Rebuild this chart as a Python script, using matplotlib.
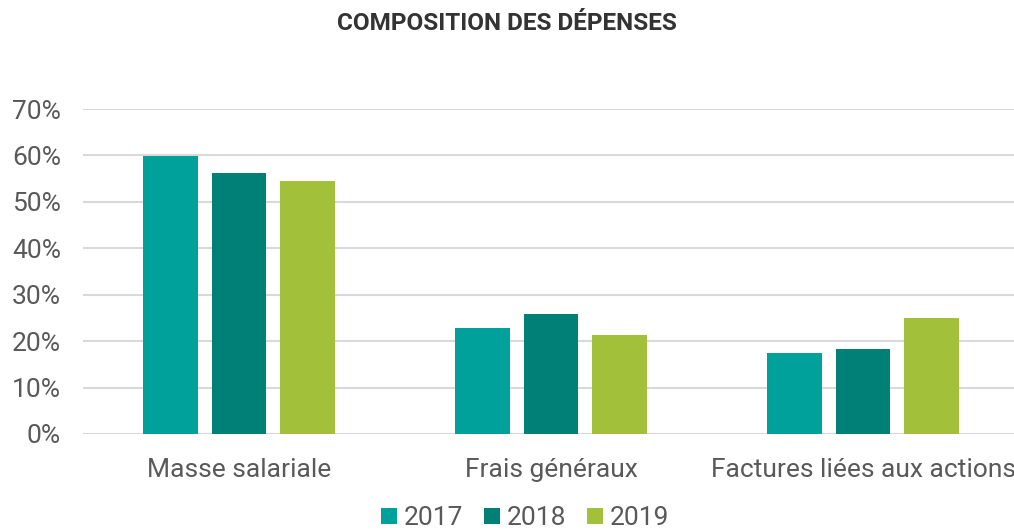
import matplotlib.pyplot as plt
import numpy as np

categories = ['Masse salariale', 'Frais généraux', 'Factures liées aux actions']
years = ['2017', '2018', '2019']
v2017 = [59.8, 22.9, 17.4]
v2018 = [56.2, 25.8, 18.2]
v2019 = [54.6, 21.4, 24.9]
colors = ['#00A19A', '#008077', '#A2C03A']

plt.rcParams['font.family'] = ['Roboto', 'DejaVu Sans']

fig = plt.figure(figsize=(10.14, 5.31), dpi=100)
ax = fig.add_axes([0.082, 0.1827, 0.923, 0.612])

x = np.arange(len(categories))
width = 0.175
step = 0.22
series = [v2017, v2018, v2019]
for i, (vals, yr) in enumerate(zip(series, years)):
    ax.bar(x + (i - 1) * step, np.array(vals) / 100, width, color=colors[i],
           label=yr, zorder=3)

ax.set_xlim(-0.5, 2.5)
ax.set_ylim(0, 0.7)
ax.set_yticks(np.arange(0, 0.71, 0.1))
ax.set_yticklabels([f'{int(round(t * 100))}%' for t in np.arange(0, 0.71, 0.1)])
ax.set_xticks(x)
ax.set_xticklabels(categories)
ax.tick_params(axis='both', length=0, labelsize=19, labelcolor='#595959')
ax.tick_params(axis='y', pad=16)
ax.tick_params(axis='x', pad=17)
ax.grid(axis='y', color='#d9d9d9', linewidth=1.5, zorder=0)
for s in ax.spines.values():
    s.set_visible(False)

fig.text(0.5, 0.955, 'COMPOSITION DES DÉPENSES', ha='center', va='center',
         fontsize=17.5, fontweight='bold', color='#333333',
         family=['Liberation Sans Narrow', 'Roboto', 'DejaVu Sans'])

leg = fig.legend(loc='center', bbox_to_anchor=(0.518, 0.024), ncol=3, frameon=False,
                 fontsize=19, handlelength=0.6, handleheight=0.6, handletextpad=0.25,
                 columnspacing=0.8, labelcolor='#595959')

fig.savefig('out.png', dpi=100)
